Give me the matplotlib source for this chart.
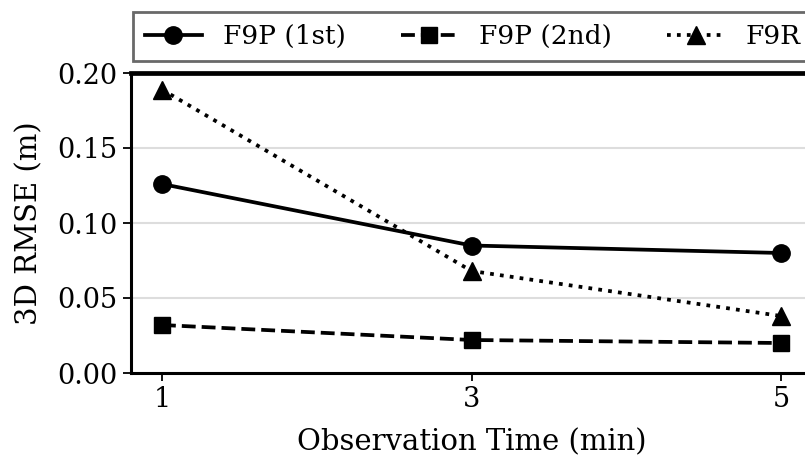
import matplotlib
matplotlib.use("Agg")
import matplotlib.pyplot as plt
import numpy as np

obs_time = [1, 3, 5]
f9p_1st = [0.126, 0.085, 0.080]
f9p_2nd = [0.032, 0.022, 0.020]
f9r = [0.189, 0.068, 0.038]
series_labels = ["F9P (1st)", "F9P (2nd)", "F9R"]

plt.rcParams['font.family'] = ['DejaVu Serif']
plt.rcParams['font.size'] = 14

fig = plt.figure(figsize=(8.05, 4.58), dpi=100)
ax = fig.add_axes([131/805, 1 - 373/458, (812-131)/805, (373-73)/458])

lw = 2.7
ms = 12.5
ax.plot(obs_time, f9p_1st, color='black', linestyle='-', marker='o', markersize=ms, linewidth=lw, label=series_labels[0])
ax.plot(obs_time, f9p_2nd, color='black', linestyle='--', marker='s', markersize=ms - 0.5, linewidth=lw, label=series_labels[1])
ax.plot(obs_time, f9r, color='black', linestyle=':', marker='^', markersize=ms, linewidth=lw, label=series_labels[2])

ax.set_xlim(0.8, 5.2)
ax.set_ylim(0, 0.2)
ax.set_xticks(obs_time)
ax.set_yticks([0, 0.05, 0.10, 0.15, 0.20])
ax.set_yticklabels(["0.00", "0.05", "0.10", "0.15", "0.20"])
ax.yaxis.grid(True, color='#dddddd', linewidth=1.5)
ax.set_axisbelow(True)
for s in ['left', 'bottom', 'right']:
    ax.spines[s].set_linewidth(2.2)
ax.spines['top'].set_linewidth(3.4)
ax.tick_params(axis='both', labelsize=19.5, width=1.3, length=6)
ax.set_xlabel("Observation Time (min)", fontsize=21, labelpad=11)
ax.set_ylabel("3D RMSE (m)", fontsize=21, labelpad=10)

leg = ax.legend(loc='lower left', bbox_to_anchor=(0.003, 1.04), ncol=3,
                fontsize=19, frameon=True, fancybox=False, borderaxespad=0,
                handlelength=2.15, handletextpad=0.8, columnspacing=2.1,
                borderpad=0.45)
leg.get_frame().set_edgecolor('#444444')
leg.get_frame().set_linewidth(2)

fig.savefig("out.png", dpi=100)
